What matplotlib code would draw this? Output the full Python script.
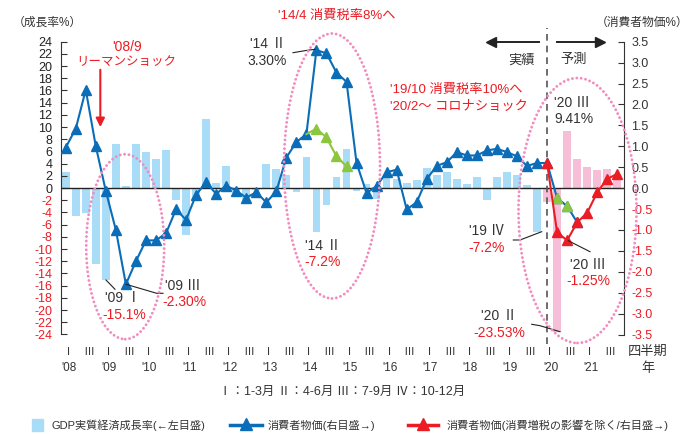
import matplotlib
matplotlib.use("Agg")
import matplotlib.pyplot as plt
from matplotlib.patches import Ellipse, Rectangle
from matplotlib.lines import Line2D

plt.rcParams['font.family'] = ['Liberation Sans', 'Noto Sans CJK JP', 'DejaVu Sans']

# --- data (quarters from 2008 Q1 = 0) ---
years = ["'08", "'09", "'10", "'11", "'12", "'13", "'14", "'15",
         "'16", "'17", "'18", "'19", "'20", "'21"]
gdp_actual = [2.7, -4.6, -4.1, -12.5, -15.1, 7.2, 0.4, 7.2, 5.9, 4.7, 6.2, -1.9,
              -7.7, -2.1, 11.3, 0.9, 3.6, -0.8, -2.1, -0.3, 4.0, 3.2, 2.1, -0.7,
              5.1, -7.2, -2.7, 1.9, 6.4, -0.5, 0.7, -1.8, 2.0, 1.5, 0.8, 1.4,
              3.3, 2.1, 2.7, 1.5, 0.6, 1.9, -2.0, 1.8, 2.6, 2.1, 0.5, -7.2]
gdp_forecast = [-2.2, -23.53, 9.41, 4.7, 3.45, 2.9, 3.1, 1.3]   # 2020 Q1 -
cpi = [0.97, 1.42, 2.35, 1.0, -0.07, -1.0, -2.30, -1.75, -1.25, -1.25, -1.08, -0.51,
       -0.76, -0.16, 0.14, -0.14, 0.06, -0.06, -0.23, -0.10, -0.34, -0.08, 0.73, 1.10,
       1.29, 3.30, 3.22, 2.76, 2.54, 0.60, -0.12, 0.05, 0.38, 0.44, -0.51, -0.34,
       0.22, 0.53, 0.62, 0.86, 0.78, 0.78, 0.90, 0.94, 0.86, 0.76, 0.53, 0.60,
       0.60, -0.24, -0.43, -0.82]                                 # 2008 Q1 - 2020 Q4
cpi_ex_2014 = [1.29, 1.42, 1.21, 0.76, 0.52]                      # 2014 Q1 - 2015 Q1
cpi_ex_2014_start = 24
cpi_green_2020 = [49, 50]
cpi_ex_2020 = [0.60, -1.06, -1.25, -0.82, -0.59, -0.10, 0.22, 0.34]  # 2020 Q1 -
forecast_start = 48

BAR_BLUE = '#A9DCF6'
BAR_PINK = '#F6BED7'
BLUE = '#0B6DB7'
GREEN = '#8CC63F'
RED = '#EB1C24'
DOT = '#F28CBE'
DARK = '#333333'

W, H = 699, 434
fig = plt.figure(figsize=(W / 100, H / 100), dpi=100)


def fx(x):
    return x / W


def fy(y):
    return 1 - y / H


ax = fig.add_axes([fx(60.7), fy(334.5), (624.3 - 60.7) / W, (334.5 - 41.7) / H])
ax2 = ax.twinx()

n_act = len(gdp_actual)
ax.bar(range(n_act), gdp_actual, width=0.77, color=BAR_BLUE, zorder=1)
ax.bar(range(forecast_start, forecast_start + len(gdp_forecast)), gdp_forecast,
       width=0.77, color=BAR_PINK, zorder=1)
ax.axhline(0, color='#222222', lw=1.0, zorder=3)

ax.set_xlim(-0.5, 55.7)
ax.set_ylim(-24, 24)
ax2.set_ylim(-3.5, 3.5)

# lines
ax2.plot(range(len(cpi)), cpi, color=BLUE, lw=1.5, marker='^', ms=7, zorder=2)
xs = list(range(cpi_ex_2014_start, cpi_ex_2014_start + len(cpi_ex_2014)))
ax2.plot(xs, cpi_ex_2014, color=GREEN, lw=1.5, marker='^', ms=7,
         markevery=list(range(1, len(xs))), zorder=3)
ax2.plot(cpi_green_2020, [cpi[i] for i in cpi_green_2020], ls='none', marker='^',
         ms=7, color=GREEN, zorder=3)
ax2.plot(range(forecast_start, forecast_start + len(cpi_ex_2020)), cpi_ex_2020,
         color=RED, lw=1.5, marker='^', ms=7, zorder=4)

# dashed divider actual / forecast
ax.plot([forecast_start, forecast_start], [-25.6, 26.3], ls=(0, (4, 3)), color='#555555',
        lw=1.2, clip_on=False, zorder=5)

# axes styling
for s in ['top', 'bottom', 'right']:
    ax.spines[s].set_visible(False)
for s in ['top', 'bottom', 'left']:
    ax2.spines[s].set_visible(False)
ax.spines['left'].set_color(DARK)
ax2.spines['right'].set_color(DARK)
ax.tick_params(axis='x', bottom=False, labelbottom=False)

lt = list(range(-24, 25, 2))
ax.set_yticks(lt)
ax.set_yticklabels([str(v) for v in lt], fontsize=9)
for lab, v in zip(ax.get_yticklabels(), lt):
    lab.set_color(RED if v < 0 else '#222222')
ax.tick_params(axis='y', direction='in', length=4, width=0.8, color=DARK, pad=6)

rt = [v / 2 for v in range(-7, 8)]
ax2.set_yticks(rt)
ax2.set_yticklabels([f'{v:.1f}' for v in rt], fontsize=9)
for lab, v in zip(ax2.get_yticklabels(), rt):
    lab.set_color(RED if v < 0 else DARK)
ax2.tick_params(axis='y', direction='in', length=4, width=0.8, color=DARK, pad=5)

# quarter / year labels
xt = ax.get_xaxis_transform()
for i, yr in enumerate(years):
    q1 = i * 4 + 0.25
    ax.text(q1, -0.06, 'Ⅰ', transform=xt, ha='center', va='center', fontsize=8, color=DARK)
    ax.text(q1 + 2, -0.06, 'Ⅲ', transform=xt, ha='center', va='center', fontsize=8, color=DARK)
    ax.text(q1 + 0.1, -0.115, yr, transform=xt, ha='center', va='center', fontsize=8.5,
            color=DARK)
fig.text(fx(648), fy(352), '四半期', ha='center', va='center', fontsize=9.5, color=DARK)
fig.text(fx(648), fy(369), '年', ha='center', va='center', fontsize=9.5, color=DARK)
fig.text(fx(342), fy(391.5), 'Ⅰ：1-3月 Ⅱ：4-6月 Ⅲ：7-9月 Ⅳ：10-12月', ha='center',
         va='center', fontsize=9, color=DARK)

# axis titles
fig.text(fx(13), fy(22.7), '（成長率%）', ha='left', va='center', fontsize=8.5, color=DARK)
fig.text(fx(596), fy(22.7), '（消費者物価%）', ha='left', va='center', fontsize=8.5, color=DARK)

# dotted ellipses
for cx, cy, w, h in [(125.2, 246.7, 78, 185), (332, 166, 96, 265), (577.5, 210.5, 118, 265)]:
    e = Ellipse((fx(cx), fy(cy)), w / W, h / H, transform=fig.transFigure, fill=False,
                ec=DOT, lw=2.1, ls=(0, (0.01, 1.5)), zorder=6)
    e.set_capstyle('round')
    fig.add_artist(e)


def txt(x, y, s, color=DARK, size=10, ha='center'):
    fig.text(fx(x), fy(y), s, ha=ha, va='center', fontsize=size, color=color)


def leader(pts):
    fig.add_artist(Line2D([fx(p[0]) for p in pts], [fy(p[1]) for p in pts],
                          transform=fig.transFigure, color='#222222', lw=0.8))


# annotations
txt(337, 16, "'14/4 消費税率8%へ", RED, 9.5)
txt(126.7, 46.7, "'08/9", RED, 10)
txt(126.7, 62.3, 'リーマンショック', RED, 9)
ax.annotate('', xy=(3.45, 10.0), xytext=(3.45, 19.4),
            arrowprops=dict(arrowstyle='-|>', color=RED, lw=1.5, mutation_scale=13,
                            shrinkA=0, shrinkB=0))
txt(267.5, 44, "'14 Ⅱ")
txt(266.7, 61, '3.30%')
leader([(293, 52.7), (306, 50.5), (315, 49.3)])

txt(521.7, 60, '実績', DARK, 9.5)
txt(574, 60, '予測', DARK, 9.5)
fig.add_artist(Line2D([fx(539), fx(494)], [fy(41.7)] * 2, transform=fig.transFigure,
                      color='#222222', lw=1.4))
fig.add_artist(Line2D([fx(557), fx(597)], [fy(41.7)] * 2, transform=fig.transFigure,
                      color='#222222', lw=1.4))
fig.add_artist(Line2D([fx(491)], [fy(41.7)], transform=fig.transFigure, marker='<',
                      ms=7, color='#222222'))
fig.add_artist(Line2D([fx(600)], [fy(41.7)], transform=fig.transFigure, marker='>',
                      ms=7, color='#222222'))

txt(390, 89.3, "'19/10 消費税率10%へ", RED, 9.5, 'left')
txt(390, 107.3, "'20/2〜 コロナショック", RED, 9.5, 'left')
txt(554, 103.3, "'20 Ⅲ", DARK, 10, 'left')
txt(554, 119, '9.41%', DARK, 10, 'left')

txt(122.5, 298.3, "'09 Ⅰ")
txt(124, 315, '-15.1%', RED)
leader([(106, 280), (115, 289.3)])
txt(182.5, 286, "'09 Ⅲ")
txt(184, 302.3, '-2.30%', RED)
leader([(126, 284.3), (156.7, 293.3), (163, 293.3)])
txt(322.5, 245.7, "'14 Ⅱ")
txt(322.5, 261.7, '-7.2%', RED)
txt(486.5, 231, "'19 Ⅳ")
txt(486.5, 248.3, '-7.2%', RED)
leader([(513.3, 240), (520, 240), (541.7, 231.7)])
txt(587.5, 265, "'20 Ⅲ")
txt(588, 280.7, '-1.25%', RED)
leader([(568.3, 240.7), (590, 251.7)])
txt(498.5, 316, "'20 Ⅱ")
txt(499, 333.3, '-23.53%', RED)
leader([(531.7, 324.3), (540, 325.7), (560, 331.7)])

# legend
fig.add_artist(Rectangle((fx(31.7), fy(431)), 11.6 / W, 11.6 / H, transform=fig.transFigure,
                         color=BAR_BLUE))
txt(51.7, 425, 'GDP実質経済成長率(←左目盛)', DARK, 8, 'left')
fig.add_artist(Line2D([fx(230), fx(262)], [fy(425)] * 2, transform=fig.transFigure,
                      color=BLUE, lw=2.5))
fig.add_artist(Line2D([fx(246)], [fy(423.5)], transform=fig.transFigure, marker='^',
                      ms=9, color=BLUE))
txt(268, 425, '消費者物価(右目盛→)', DARK, 8, 'left')
fig.add_artist(Line2D([fx(408), fx(438)], [fy(425)] * 2, transform=fig.transFigure,
                      color=RED, lw=2.5))
fig.add_artist(Line2D([fx(423)], [fy(423.5)], transform=fig.transFigure, marker='^',
                      ms=9, color=RED))
txt(446.7, 425, '消費者物価(消費増税の影響を除く/右目盛→)', DARK, 8, 'left')

fig.savefig('out.png', dpi=100)
